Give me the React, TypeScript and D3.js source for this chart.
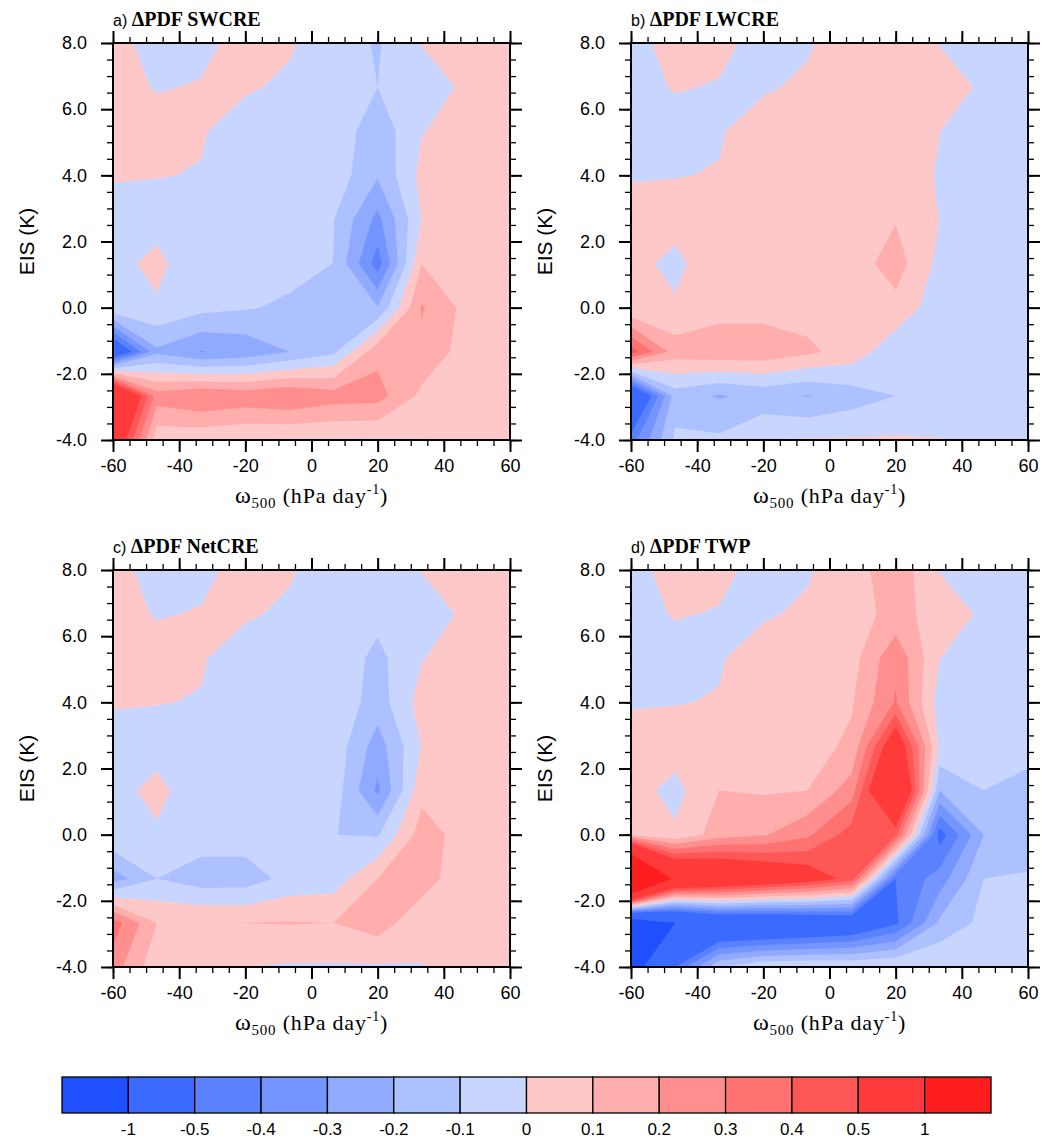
import { useEffect, useRef } from 'react';
import * as d3 from 'd3';

// grid nodes of the binned fields
const omegaGrid = [-60, -46.67, -33.33, -20, -6.67, 6.67, 20, 33.33, 46.67, 60];
// rows run from the top of a panel (EIS 8) down to EIS -4
const eisRows = [8, 6.67, 5.33, 4, 2.67, 1.33, 0, -1.33, -2.67, -4];

const levels = [-1, -0.5, -0.4, -0.3, -0.2, -0.1, 0, 0.1, 0.2, 0.3, 0.4, 0.5, 1];
const levelLabels = ['-1', '-0.5', '-0.4', '-0.3', '-0.2', '-0.1', '0', '0.1', '0.2', '0.3', '0.4', '0.5', '1'];
const fillColors = [
  '#1e50ff', '#3a6aff', '#5a82ff', '#7494ff', '#90aaff', '#adc0ff', '#c8d6ff',
  '#ffc8c8', '#ffadad', '#ff8f8f', '#ff7272', '#ff5656', '#ff3a3a', '#ff1e1e'
];

const omegaTicks = [-60, -40, -20, 0, 20, 40, 60];
const eisTicks = [-4, -2, 0, 2, 4, 6, 8];

const swcre = [
  [0.04, -0.045, -0.04, 0.055, 0.01, -0.05, -0.11, 0.005, 0.05, 0.05],
  [0.05, -0.01, 0.01, 0.01, -0.015, -0.06, -0.1, -0.06, 0.02, 0.05],
  [0.05, 0.06, 0.007, -0.04, -0.05, -0.03, -0.165, -0.005, 0.05, 0.05],
  [0.01, 0.003, -0.004, -0.05, -0.06, -0.04, -0.19, 0.03, 0.05, 0.05],
  [-0.05, -0.04, -0.05, -0.05, -0.06, -0.097, -0.33, 0.002, 0.05, 0.05],
  [-0.035, 0.03, -0.095, -0.06, -0.06, -0.101, -0.45, 0.098, 0.06, 0.05],
  [-0.01, -0.015, -0.07, -0.09, -0.12, -0.17, -0.195, 0.21, 0.07, 0.05],
  [-0.71, -0.22, -0.305, -0.27, -0.2, -0.12, 0.17, 0.17, 0.06, 0.05],
  [0.95, 0.25, 0.3, 0.27, 0.3, 0.25, 0.24, 0.075, 0.05, 0.05],
  [0.7, 0.03, 0.02, -0.001, -0.01, -0.01, -0.012, -0.003, 0.02, 0.03]
];

const lwcre = [
  [-0.04, 0.045, 0.04, -0.055, -0.01, 0.05, 0.06, -0.005, -0.05, -0.05],
  [-0.05, 0.01, -0.01, -0.01, 0.015, 0.06, 0.07, 0.06, -0.02, -0.05],
  [-0.05, -0.06, -0.007, 0.04, 0.05, 0.03, 0.07, 0.001, -0.05, -0.05],
  [-0.01, -0.003, 0.004, 0.05, 0.06, 0.04, 0.07, -0.012, -0.05, -0.05],
  [0.05, 0.04, 0.05, 0.05, 0.06, 0.07, 0.094, -0.002, -0.05, -0.05],
  [0.035, -0.03, 0.08, 0.06, 0.06, 0.047, 0.147, -0.028, -0.06, -0.05],
  [0.01, 0.015, 0.06, 0.06, 0.06, 0.06, 0.069, -0.06, -0.05, -0.05],
  [0.45, 0.15, 0.17, 0.17, 0.12, 0.057, -0.07, -0.05, -0.05, -0.05],
  [-0.8, -0.15, -0.21, -0.17, -0.205, -0.15, -0.1, -0.05, -0.05, -0.05],
  [-0.45, -0.08, -0.08, 0.001, 0.01, 0.01, 0.012, 0.003, -0.02, -0.03]
];

const netcre = [
  [0.04, -0.045, -0.04, 0.055, 0.01, -0.05, -0.06, 0.005, 0.05, 0.05],
  [0.05, -0.01, 0.01, 0.01, -0.015, -0.06, -0.07, -0.06, 0.02, 0.05],
  [0.05, 0.06, 0.007, -0.04, -0.05, -0.03, -0.128, -0.005, 0.05, 0.05],
  [0.01, 0.003, -0.004, -0.05, -0.06, -0.02, -0.15, 0.04, 0.05, 0.05],
  [-0.05, -0.04, -0.05, -0.05, -0.06, -0.033, -0.25, 0.005, 0.05, 0.05],
  [-0.035, 0.03, -0.07, -0.06, -0.06, -0.043, -0.32, 0.07, 0.06, 0.05],
  [-0.01, -0.015, -0.05, -0.05, -0.06, -0.099, -0.11, 0.147, 0.058, 0.05],
  [-0.25, -0.1, -0.15, -0.15, -0.067, -0.05, 0.1, 0.15, 0.028, 0.05],
  [0.35, 0.1, 0.099, 0.101, 0.104, 0.1, 0.15, 0.03, 0.05, 0.05],
  [0.25, 0.03, 0.02, -0.001, -0.01, -0.01, -0.012, -0.003, 0.02, 0.03]
];

const twp = [
  [-0.04, 0.045, 0.04, -0.055, -0.01, 0.05, 0.17, -0.005, -0.05, -0.05],
  [-0.05, 0.01, -0.01, -0.01, 0.015, 0.06, 0.13, 0.065, -0.02, -0.05],
  [-0.05, -0.06, -0.007, 0.04, 0.05, 0.058, 0.278, 0.001, -0.05, -0.05],
  [-0.01, -0.003, 0.004, 0.05, 0.06, 0.09, 0.31, -0.05, -0.05, -0.05],
  [0.05, 0.04, 0.05, 0.05, 0.06, 0.12, 0.65, -0.02, -0.05, -0.08],
  [0.04, -0.03, 0.1, 0.09, 0.1, 0.25, 0.9, -0.2, -0.1, -0.12],
  [0.09, 0.015, 0.15, 0.19, 0.28, 0.45, 0.42, -0.55, -0.2, -0.15],
  [2.2, 0.9, 0.8, 0.7, 0.6, 0.45, -0.5, -0.35, -0.1, -0.09],
  [-1.3, -1.0, -0.8, -0.8, -0.75, -0.7, -0.52, -0.18, -0.07, -0.06],
  [-1.2, -0.5, -0.1, 0.001, 0.01, 0.01, 0.012, 0.003, -0.02, -0.03]
];

const SANS = 'Liberation Sans, Arial, Helvetica, sans-serif';
const SERIF = 'Liberation Serif, Times New Roman, serif';

export default function App() {
  const svgRef = useRef<SVGSVGElement | null>(null);

  useEffect(() => {
    const svg = d3.select(svgRef.current);
    svg.selectAll('*').remove();

    const size = 397;
    const panels = [
      { letter: 'a', name: 'SWCRE', grid: swcre, left: 113, top: 43 },
      { letter: 'b', name: 'LWCRE', grid: lwcre, left: 631, top: 43 },
      { letter: 'c', name: 'NetCRE', grid: netcre, left: 113, top: 570 },
      { letter: 'd', name: 'TWP', grid: twp, left: 631, top: 570 }
    ];

    const n = omegaGrid.length;
    const m = eisRows.length;
    const contourGen = d3.contours().size([n, m]).thresholds(levels);

    panels.forEach((p) => {
      const x = d3.scaleLinear().domain([-60, 60]).range([p.left, p.left + size]);
      const y = d3.scaleLinear().domain([-4, 8]).range([p.top + size, p.top]);

      // d3.contours puts sample i at i + 0.5
      const gx = d3.scaleLinear().domain([0.5, n - 0.5]).range([x(omegaGrid[0]), x(omegaGrid[n - 1])]);
      const gy = d3.scaleLinear().domain([0.5, m - 0.5]).range([y(eisRows[0]), y(eisRows[m - 1])]);
      const path = d3.geoPath(
        d3.geoTransform({
          point(px, py) {
            this.stream.point(gx(px), gy(py));
          }
        })
      );

      const bands = contourGen(p.grid.flat());
      const clipId = `clip-${p.letter}`;
      svg
        .append('clipPath')
        .attr('id', clipId)
        .append('rect')
        .attr('x', p.left)
        .attr('y', p.top)
        .attr('width', size)
        .attr('height', size);

      const plot = svg.append('g').attr('clip-path', `url(#${clipId})`);
      plot
        .append('rect')
        .attr('x', p.left)
        .attr('y', p.top)
        .attr('width', size)
        .attr('height', size)
        .attr('fill', fillColors[0]);
      plot
        .selectAll('path')
        .data(bands)
        .join('path')
        .attr('d', (d) => path(d))
        .attr('fill', (d, i) => fillColors[i + 1]);

      // ticks, all pointing outward
      const addAxis = (axis, tx, ty, width) => {
        const g = svg
          .append('g')
          .attr('transform', `translate(${tx}, ${ty})`)
          .call(axis)
          .attr('font-family', SANS)
          .attr('font-size', 18);
        g.select('.domain').remove();
        g.selectAll('line').attr('stroke', '#000').attr('stroke-width', width);
        g.selectAll('text').attr('fill', '#000');
        return g;
      };
      const none = () => '';
      const minorX = d3.range(-60, 61, 5);
      const minorY = d3.range(-4, 8.01, 0.5);

      addAxis(d3.axisBottom(x).tickValues(minorX).tickSize(6).tickFormat(none), 0, p.top + size, 1.3);
      addAxis(d3.axisTop(x).tickValues(minorX).tickSize(6).tickFormat(none), 0, p.top, 1.3);
      addAxis(d3.axisLeft(y).tickValues(minorY).tickSize(6).tickFormat(none), p.left, 0, 1.3);
      addAxis(d3.axisRight(y).tickValues(minorY).tickSize(6).tickFormat(none), p.left + size, 0, 1.3);

      addAxis(
        d3.axisBottom(x).tickValues(omegaTicks).tickSize(12).tickPadding(7).tickFormat((d) => String(d)),
        0,
        p.top + size,
        2
      );
      addAxis(d3.axisTop(x).tickValues(omegaTicks).tickSize(12).tickFormat(none), 0, p.top, 2);
      addAxis(
        d3.axisLeft(y).tickValues(eisTicks).tickSize(12).tickPadding(14).tickFormat((d) => d.toFixed(1)),
        p.left,
        0,
        2
      );
      addAxis(d3.axisRight(y).tickValues(eisTicks).tickSize(12).tickFormat(none), p.left + size, 0, 2);

      svg
        .append('rect')
        .attr('x', p.left)
        .attr('y', p.top)
        .attr('width', size)
        .attr('height', size)
        .attr('fill', 'none')
        .attr('stroke', '#000')
        .attr('stroke-width', 2);

      // title
      const title = svg.append('text').attr('x', p.left).attr('y', p.top - 17).attr('fill', '#000');
      title.append('tspan').attr('font-family', SANS).attr('font-size', 16).text(`${p.letter}) `);
      title
        .append('tspan')
        .attr('font-family', SERIF)
        .attr('font-weight', 'bold')
        .attr('font-size', 20)
        .text(`\u0394PDF ${p.name}`);

      // y label
      svg
        .append('text')
        .attr('transform', `translate(${p.left - 87}, ${p.top + size / 2}) rotate(-90)`)
        .attr('text-anchor', 'middle')
        .attr('dominant-baseline', 'central')
        .attr('font-family', SANS)
        .attr('font-size', 21)
        .text('EIS (K)');

      // x label
      const xl = svg
        .append('text')
        .attr('x', p.left + size / 2)
        .attr('y', p.top + size + 63)
        .attr('text-anchor', 'middle')
        .attr('font-family', SERIF)
        .attr('font-size', 22)
        .attr('letter-spacing', 0.8);
      xl.append('tspan').attr('font-size', 24).text('\u03c9');
      xl.append('tspan').attr('font-size', 15).attr('dy', 5).text('500');
      xl.append('tspan').attr('dy', -5).text(' (hPa day');
      xl.append('tspan').attr('font-size', 14).attr('dy', -9).text('-1');
      xl.append('tspan').attr('dy', 9).text(')');
    });

    // colour bar
    const cb = d3.scaleLinear().domain([0, fillColors.length]).range([62, 991]);
    const bar = svg.append('g');
    bar
      .selectAll('rect')
      .data(fillColors)
      .join('rect')
      .attr('x', (d, i) => cb(i))
      .attr('y', 1077)
      .attr('width', (d, i) => cb(i + 1) - cb(i))
      .attr('height', 36)
      .attr('fill', (d) => d)
      .attr('stroke', '#000')
      .attr('stroke-width', 1.3);
    bar
      .selectAll('text')
      .data(levelLabels)
      .join('text')
      .attr('x', (d, i) => cb(i + 1))
      .attr('y', 1135)
      .attr('text-anchor', 'middle')
      .attr('font-family', SANS)
      .attr('font-size', 17)
      .text((d) => d);
  }, []);

  return (
    <svg
      ref={svgRef}
      width={1052}
      height={1139}
      style={{ position: 'absolute', left: 0, top: 0, background: '#fff' }}
    />
  );
}
